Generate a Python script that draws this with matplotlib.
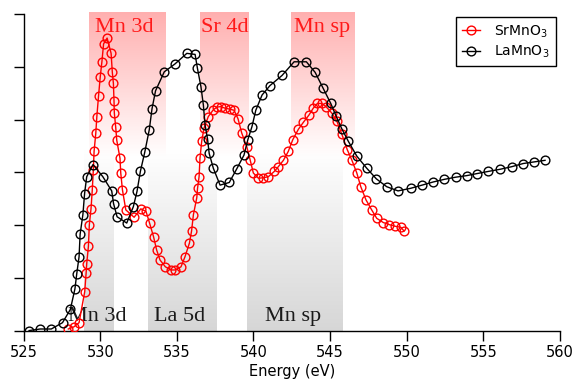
import numpy as np
import matplotlib
matplotlib.use('Agg')
import matplotlib.pyplot as plt

# LaMnO3 (black)
la_energy = [525.36, 526.08, 526.81, 527.54, 528.05, 528.35, 528.47, 528.62, 528.69, 528.87,
             528.98, 529.12, 529.53, 530.17, 530.75, 530.87, 531.10, 531.73, 532.16, 532.40,
             532.62, 532.91, 533.20, 533.38, 533.61, 534.18, 534.88, 535.65, 536.19, 536.34,
             536.57, 536.73, 536.84, 537.00, 537.11, 537.38, 537.82, 538.42, 538.91, 539.38,
             539.63, 539.90, 540.15, 540.56, 541.08, 541.86, 542.65, 543.45, 544.02, 544.54,
             545.04, 545.39, 545.76, 546.19, 546.74, 547.39, 548.01, 548.69, 549.43, 550.26,
             551.00, 551.73, 552.46, 553.18, 553.91, 554.60, 555.32, 556.08, 556.85, 557.60,
             558.30, 559.02]
la_signal = [0.00, 0.03, 0.03, 0.15, 0.40, 0.79, 1.08, 1.40, 1.83, 2.20,
             2.60, 2.92, 3.15, 2.92, 2.65, 2.41, 2.16, 2.04, 2.35, 2.64,
             3.02, 3.39, 3.81, 4.21, 4.55, 4.91, 5.06, 5.26, 5.24, 4.98,
             4.63, 4.28, 3.90, 3.64, 3.36, 3.08, 2.76, 2.81, 3.07, 3.33,
             3.62, 3.87, 4.18, 4.47, 4.65, 4.84, 5.10, 5.10, 4.90, 4.60,
             4.31, 4.07, 3.83, 3.59, 3.31, 3.08, 2.88, 2.73, 2.65, 2.70,
             2.76, 2.82, 2.87, 2.91, 2.94, 2.98, 3.02, 3.06, 3.11, 3.17,
             3.20, 3.23]

# SrMnO3 (red)
sr_energy = [527.92, 528.28, 528.62, 528.99, 529.08, 529.12, 529.23, 529.29, 529.40, 529.48,
             529.55, 529.60, 529.71, 529.78, 529.89, 530.00, 530.11, 530.22, 530.45, 530.71,
             530.79, 530.86, 530.90, 530.92, 531.01, 531.08, 531.29, 531.34, 531.45, 531.67,
             532.21, 532.65, 532.99, 533.22, 533.48, 533.68, 533.90, 534.25, 534.62, 534.90,
             535.27, 535.53, 535.82, 535.96, 536.08, 536.30, 536.35, 536.45, 536.51, 536.62,
             536.77, 537.05, 537.38, 537.62, 537.86, 538.14, 538.47, 538.73, 538.99, 539.23,
             539.56, 539.78, 539.99, 540.32, 540.64, 540.97, 541.36, 541.62, 541.95, 542.27,
             542.56, 542.93, 543.25, 543.62, 543.90, 544.17, 544.45, 544.73, 545.10, 545.43,
             545.76, 546.12, 546.41, 546.74, 547.00, 547.34, 547.71, 548.04, 548.47, 548.86,
             549.23, 549.61, 549.82]
sr_signal = [0.03, 0.07, 0.15, 0.74, 1.09, 1.27, 1.60, 2.01, 2.31, 2.66,
             3.04, 3.40, 3.74, 4.06, 4.45, 4.81, 5.10, 5.44, 5.55, 5.26,
             4.90, 4.69, 4.36, 4.13, 3.86, 3.61, 3.27, 2.99, 2.67, 2.29,
             2.15, 2.31, 2.26, 2.04, 1.78, 1.53, 1.34, 1.21, 1.15, 1.15,
             1.21, 1.40, 1.66, 1.89, 2.20, 2.52, 2.70, 2.92, 3.27, 3.59,
             3.84, 4.06, 4.19, 4.24, 4.25, 4.22, 4.20, 4.18, 4.02, 3.75,
             3.49, 3.24, 2.99, 2.89, 2.90, 2.92, 3.02, 3.11, 3.23, 3.40,
             3.62, 3.82, 3.95, 4.09, 4.22, 4.31, 4.31, 4.25, 4.13, 3.98,
             3.73, 3.43, 3.24, 2.99, 2.73, 2.48, 2.29, 2.13, 2.05, 2.01,
             1.98, 1.96, 1.89]

# shaded regions: (start, end) in eV
top_bands = [(529.29, 534.28), (536.51, 539.66), (542.45, 546.62)]
top_labels = ['Mn 3d', 'Sr 4d', 'Mn sp']
top_label_x = [529.66, 536.60, 542.65]

bottom_bands = [(528.95, 530.90), (533.12, 537.60), (539.56, 545.82)]
bottom_labels = ['Mn 3d', 'La 5d', 'Mn sp']
bottom_label_x = [527.90, 533.50, 540.78]


def gradient(ax, x0, x1, y0, y1, color, fade_up):
    ''' vertical band fading from color to transparent '''
    n = 200
    img = np.zeros((n, 1, 4))
    img[:, 0, :3] = color
    # origin 'lower': row 0 sits at y0
    if fade_up:
        img[:, 0, 3] = np.linspace(1, 0, n)
    else:
        img[:, 0, 3] = np.linspace(0, 1, n)
    ax.imshow(img, extent=[x0, x1, y0, y1], origin='lower', aspect='auto',
              interpolation='bilinear', zorder=0, clip_on=False)


fig = plt.figure(figsize=(5.75, 3.88), dpi=100)
ax = fig.add_axes([0.041, 0.148, 0.933, 0.815])

for (x0, x1) in top_bands:
    gradient(ax, x0, x1, 3.3, 6.05, (1.0, 0.69, 0.69), fade_up=False)
for (x0, x1) in bottom_bands:
    gradient(ax, x0, x1, 0.0, 3.45, (0.84, 0.84, 0.84), fade_up=True)

for lbl, x in zip(top_labels, top_label_x):
    ax.text(x, 5.66, lbl, color='#ff1a1a', fontsize=16, family='Liberation Serif',
            ha='left', va='baseline', zorder=3)
for lbl, x in zip(bottom_labels, bottom_label_x):
    ax.text(x, 0.19, lbl, color='#1a1a1a', fontsize=16, family='Liberation Serif',
            ha='left', va='baseline', zorder=3)

ax.plot(sr_energy, sr_signal, '-o', color='red', mfc='none', ms=6.3, mew=1.0, lw=1.0,
        label='SrMnO$_3$', zorder=4)
ax.plot(la_energy, la_signal, '-o', color='black', mfc='none', ms=6.3, mew=1.0, lw=1.0,
        label='LaMnO$_3$', zorder=4)

ax.set_xlim(525, 560)
ax.set_ylim(0, 6)
ax.set_xticks(np.arange(525, 561, 5))
ax.set_yticks(np.arange(0, 7, 1))
ax.set_yticklabels([])
ax.spines['top'].set_visible(False)
ax.spines['right'].set_visible(False)
ax.spines['left'].set_linewidth(1.0)
ax.spines['bottom'].set_linewidth(1.0)
ax.tick_params(direction='out', length=7, width=1.0, labelsize=10.5)
ax.set_xlabel('Energy (eV)', fontsize=10.5, labelpad=3)

leg = ax.legend(loc='upper right', bbox_to_anchor=(1.0, 1.005), fontsize=10,
                fancybox=False, framealpha=1, edgecolor='black', handlelength=1.3,
                borderpad=0.45, labelspacing=0.3, handletextpad=1.0, borderaxespad=0.3)
leg.get_frame().set_linewidth(1.0)

fig.savefig('out.png', dpi=100)
